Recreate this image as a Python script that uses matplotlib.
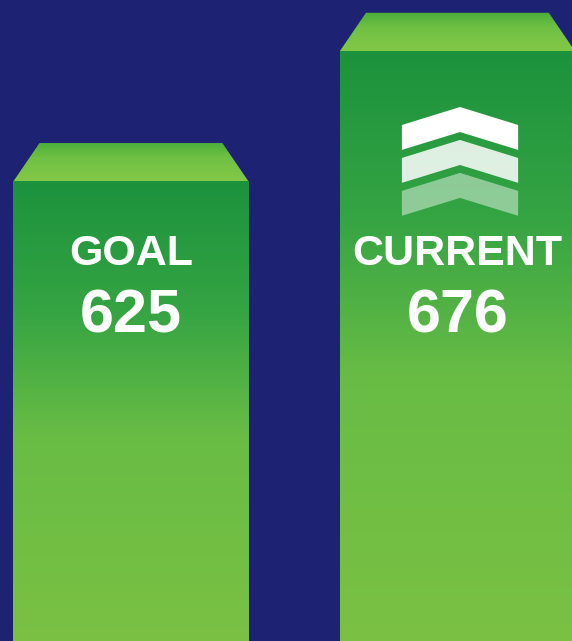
import numpy as np
import matplotlib.pyplot as plt
from matplotlib.colors import LinearSegmentedColormap
from matplotlib.patches import Polygon

# data
labels = ['GOAL', 'CURRENT']
values = [625, 676]

bg = '#1d2272'
body_cmap = LinearSegmentedColormap.from_list(
    'body', [(0, '#7ac143'), (0.45, '#68bc45'), (0.72, '#35a443'), (1, '#1c923d')])
cap_cmap = LinearSegmentedColormap.from_list(
    'cap', [(0, '#84c847'), (0.6, '#6fc043'), (1, '#4aae3b')])

fig = plt.figure(figsize=(5.72, 6.41), dpi=100)
fig.patch.set_facecolor(bg)
ax = fig.add_axes([0, 0, 1, 1])
ax.set_facecolor(bg)

width = 0.72
cap_h = 15
inset = 0.08
grad = np.linspace(0, 1, 256).reshape(-1, 1)
base = 430

for i, (lab, v) in enumerate(zip(labels, values)):
    x0, x1 = i - width / 2, i + width / 2
    top_body = v - cap_h
    ax.imshow(grad, cmap=body_cmap, origin='lower', aspect='auto',
              extent=[x0, x1, base, top_body], zorder=2)
    cap = Polygon([[x0, top_body], [x1, top_body], [x1 - inset, v], [x0 + inset, v]],
                  closed=True, facecolor='none', edgecolor='none')
    ax.add_patch(cap)
    im = ax.imshow(grad, cmap=cap_cmap, origin='lower', aspect='auto',
                   extent=[x0, x1, top_body, v], zorder=3)
    im.set_clip_path(cap)

    ax.text(i, 577.2, lab, ha='center', va='baseline', color='white',
            fontsize=31, fontweight='bold', family='Liberation Sans', zorder=5)
    ax.text(i, 550.8, str(v), ha='center', va='baseline', color='white',
            fontsize=44, fontweight='bold', family='Liberation Sans', zorder=5)

ax.set_xlim(-0.401, 1.351)
ax.set_ylim(430, 681)
ax.axis('off')

# chevrons on the current bar
cx = 1.008
hw = 0.178
alphas = [1.0, 0.85, 0.45]
for k, a in enumerate(alphas):
    ytop = 639.1 - k * 12.9
    pts = [[cx - hw, ytop - 7.05], [cx, ytop], [cx + hw, ytop - 7.05],
           [cx + hw, ytop - 16.8], [cx, ytop - 9.8], [cx - hw, ytop - 16.8]]
    ax.add_patch(Polygon(pts, closed=True, facecolor='white', edgecolor='none',
                         alpha=a, zorder=4))

fig.savefig('out.png', dpi=100, facecolor=bg)
